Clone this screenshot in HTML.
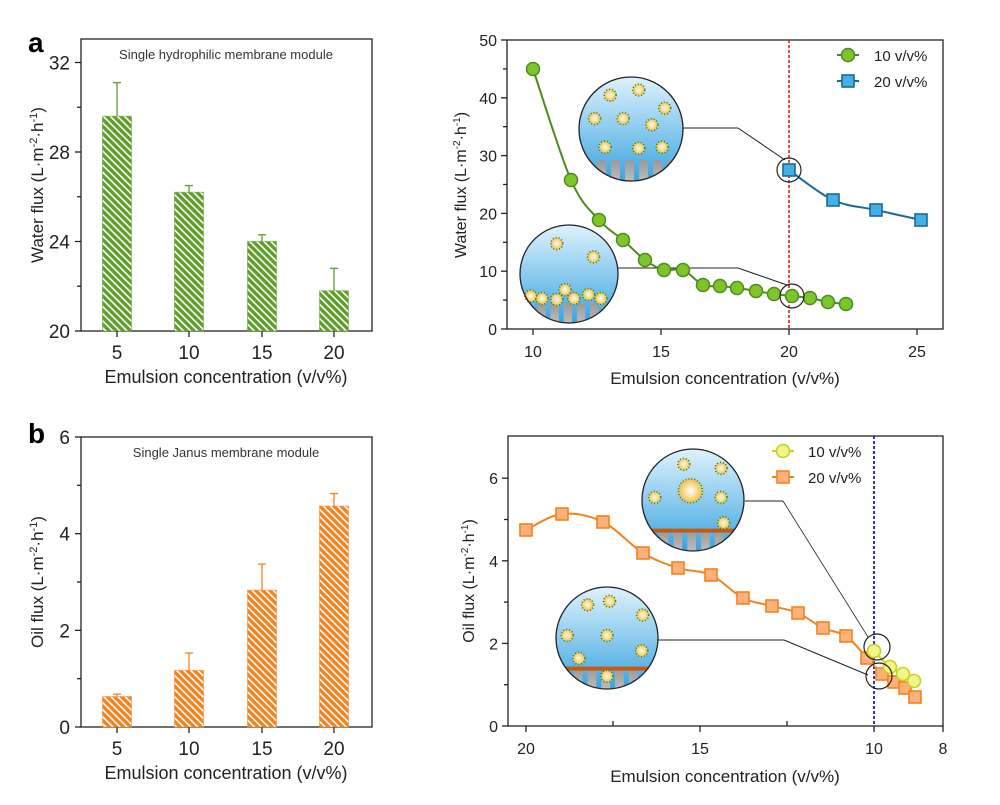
<!DOCTYPE html>
<html><head><meta charset="utf-8"><style>
html,body{margin:0;padding:0;background:#fff}
svg{display:block;font-family:"Liberation Sans",Arial,sans-serif}
</style></head><body>
<svg id="s" width="1000" height="805" viewBox="0 0 1000 805" xmlns="http://www.w3.org/2000/svg">
<defs>
<pattern id="hg" width="5" height="5" patternUnits="userSpaceOnUse" patternTransform="rotate(-45)">
<rect width="5" height="5" fill="#5f9e2a"/><rect x="0" width="1.6" height="5" fill="#fff"/></pattern>
<pattern id="ho" width="5" height="5" patternUnits="userSpaceOnUse" patternTransform="rotate(-45)">
<rect width="5" height="5" fill="#f5821f"/><rect x="0" width="1.6" height="5" fill="#fff"/></pattern>
<linearGradient id="wb" x1="0" y1="0" x2="0" y2="1"><stop offset="0" stop-color="#dff2fd"/><stop offset="1" stop-color="#3aa4e0"/></linearGradient>
<linearGradient id="pg" x1="0" y1="0" x2="0" y2="1"><stop offset="0" stop-color="#999"/><stop offset="1" stop-color="#f4f4f4"/></linearGradient>
<radialGradient id="dr"><stop offset="0" stop-color="#fff"/><stop offset="1" stop-color="#f2c040"/></radialGradient>
<clipPath id="c1"><circle cx="631" cy="129" r="52"/></clipPath>
<clipPath id="c2"><circle cx="569" cy="274" r="49"/></clipPath>
<clipPath id="c3"><circle cx="693" cy="500" r="51"/></clipPath>
<clipPath id="c4"><circle cx="607" cy="638" r="51"/></clipPath>
</defs>
<g id="g"></g>
</svg>
<script>
const g=document.getElementById('g');let h='';
function T(x,y,t,o){h+=`<text x="${x}" y="${y}" ${o||''}>${t}</text>`;}
function L(x1,y1,x2,y2,o){h+=`<line x1="${x1}" y1="${y1}" x2="${x2}" y2="${y2}" ${o||'stroke="#222" stroke-width="1.3"'}/>`;}
function curve(p){let d=`M${p[0][0]},${p[0][1]}`;for(let i=0;i<p.length-1;i++){const p0=p[i-1]||p[i],p1=p[i],p2=p[i+1],p3=p[i+2]||p2;d+=` C${p1[0]+(p2[0]-p0[0])/6},${p1[1]+(p2[1]-p0[1])/6} ${p2[0]-(p3[0]-p1[0])/6},${p2[1]-(p3[1]-p1[1])/6} ${p2[0]},${p2[1]}`;}return d;}
T(28,52,'a','font-size="28" font-weight="bold"');T(28,443,'b','font-size="28" font-weight="bold"');
function bars(top,bot,ymin,ymax,ticks,minor,vals,errs,pat,col,title,ylab){
 h+=`<rect x="81" y="${top}" width="291" height="${bot-top}" fill="none" stroke="#222" stroke-width="1.3"/>`;
 const Y=v=>bot-(v-ymin)/(ymax-ymin)*(bot-top);
 ticks.forEach(v=>{L(75,Y(v),81,Y(v));T(70,Y(v)+7,v,'font-size="19" text-anchor="end" fill="#222"');});
 minor.forEach(v=>L(77,Y(v),81,Y(v)));
 [117,189,262,334].forEach((x,i)=>{L(x,bot,x,bot+6);T(x,bot+28,[5,10,15,20][i],'font-size="19" text-anchor="middle" fill="#222"');
  h+=`<line x1="${x}" y1="${Y(vals[i])}" x2="${x}" y2="${Y(errs[i])}" stroke="${col}" stroke-width="1.3"/><line x1="${x-4}" y1="${Y(errs[i])}" x2="${x+4}" y2="${Y(errs[i])}" stroke="${col}" stroke-width="1.3"/>`;
  h+=`<rect x="${x-14.5}" y="${Y(vals[i])}" width="29" height="${bot-Y(vals[i])}" fill="url(#${pat})" stroke="${col}" stroke-opacity="0.5" stroke-width="1"/>`;});
 T(226,top+20,title,'font-size="13" text-anchor="middle" fill="#333"');
 T(226,bot+52,'Emulsion concentration (v/v%)','font-size="18" text-anchor="middle" fill="#222"');
 h+=`<text transform="translate(43,${(top+bot)/2}) rotate(-90)" font-size="17" text-anchor="middle" fill="#222">${ylab} flux (L·m<tspan dy="-6" font-size="11">-2</tspan><tspan dy="6">·h</tspan><tspan dy="-6" font-size="11">-1</tspan><tspan dy="6">)</tspan></text>`;
}
bars(39,331,20,33.05,[20,24,28,32],[22,26,30],[29.6,26.2,24.0,21.8],[31.1,26.5,24.3,22.8],'hg','#5f9e2a','Single hydrophilic membrane module','Water');
bars(437,727,0,6,[0,2,4,6],[1,3,5],[0.63,1.17,2.83,4.57],[0.68,1.53,3.37,4.83],'ho','#f5821f','Single Janus membrane module','Oil');
h+=`<rect x="507" y="40" width="436" height="289" fill="none" stroke="#222" stroke-width="1.3"/>`;
for(let v=0;v<=50;v+=5){const y=329-v*5.78;L(v%10?503:501,y,507,y);if(v%10==0)T(497,y+6,v,'font-size="16" text-anchor="end" fill="#222"');}
[10,15,20,25].forEach(v=>{const x=533+(v-10)*25.6;L(x,329,x,335);T(x,357,v,'font-size="16" text-anchor="middle" fill="#222"');});
T(725,384,'Emulsion concentration (v/v%)','font-size="17" text-anchor="middle" fill="#222"');
h+=`<text transform="translate(466,185) rotate(-90)" font-size="16" text-anchor="middle" fill="#222">Water flux (L·m<tspan dy="-6" font-size="10">-2</tspan><tspan dy="6">·h</tspan><tspan dy="-6" font-size="10">-1</tspan><tspan dy="6">)</tspan></text>`;
L(789,40,789,329,'stroke="#e8201c" stroke-width="1.6" stroke-dasharray="3,2"');
function inset(cx,cy,r,clip,drops,pores,janus){
 h+=`<g clip-path="url(#${clip})"><rect x="${cx-r}" y="${cy-r}" width="${2*r}" height="${2*r}" fill="url(#wb)"/>`;
 const py=cy+r*0.6;
 for(let x=cx-r+4;x<cx+r;x+=r*0.27){h+=`<rect x="${x}" y="${py}" width="${r*0.17}" height="${r}" fill="url(#pg)"/>`;}
 if(janus)h+=`<rect x="${cx-r}" y="${py-2}" width="${2*r}" height="4" fill="#c85a10"/>`;
 h+='</g>';
 drops.forEach(d=>{const rr=d[2]||6;h+=`<circle cx="${cx+d[0]*r}" cy="${cy+d[1]*r}" r="${rr}" fill="url(#dr)" stroke="#2a7a2a" stroke-width="1.6" stroke-dasharray="1,2"/>`;});
 h+=`<circle cx="${cx}" cy="${cy}" r="${r}" fill="none" stroke="#222" stroke-width="1.3"/>`;
}
inset(631,129,52,'c1',[[-0.4,-0.65],[0.15,-0.75],[0.65,-0.4],[-0.7,-0.2],[-0.15,-0.2],[0.4,-0.08],[-0.5,0.35],[0.15,0.37],[0.6,0.35]]);
inset(569,274,49,'c2',[[-0.25,-0.62],[0.5,-0.35],[-0.78,0.45],[-0.55,0.5],[-0.25,0.52],[0.1,0.5],[-0.08,0.32],[0.4,0.42],[0.65,0.5]]);
L(683,128,738,128,'stroke="#222" stroke-width="1"');L(738,128,785,160,'stroke="#222" stroke-width="1"');
L(618,268,738,268,'stroke="#222" stroke-width="1"');L(738,268,787,285,'stroke="#222" stroke-width="1"');
const gp=[[533,69],[571,180],[599,220],[623,240],[645,260],[664,270],[683,270],[703,285],[720,286],[737,288],[756,291],[774,294],[792,296],[810,298],[828,302],[846,304]];
h+=`<path d="${curve(gp)}" fill="none" stroke="#4e8a1e" stroke-width="2"/>`;
gp.forEach(p=>h+=`<circle cx="${p[0]}" cy="${p[1]}" r="6.5" fill="#7cc62a" stroke="#4e8a1e" stroke-width="1.5"/>`);
const bp=[[789,170],[833,200],[876,210],[921,220]];
h+=`<path d="${curve(bp)}" fill="none" stroke="#1a6a94" stroke-width="2"/>`;
bp.forEach(p=>h+=`<rect x="${p[0]-6}" y="${p[1]-6}" width="12" height="12" fill="#45b0e6" stroke="#1a6a94" stroke-width="1.6"/>`);
h+=`<circle cx="789" cy="170" r="12" fill="none" stroke="#222" stroke-width="1.2"/><circle cx="792" cy="296" r="12" fill="none" stroke="#222" stroke-width="1.2"/>`;
L(837,55,859,55,'stroke="#4e8a1e" stroke-width="2"');h+=`<circle cx="848" cy="55" r="6.5" fill="#7cc62a" stroke="#4e8a1e" stroke-width="1.5"/>`;
L(837,81,859,81,'stroke="#1a6a94" stroke-width="2"');h+=`<rect x="842" y="75" width="12" height="12" fill="#45b0e6" stroke="#1a6a94" stroke-width="1.6"/>`;
T(874,61,'10 v/v%','font-size="15" fill="#222"');T(874,87,'20 v/v%','font-size="15" fill="#222"');
h+=`<rect x="508" y="436" width="435" height="290" fill="none" stroke="#222" stroke-width="1.3"/>`;
for(let v=0;v<=6;v++){const y=726-v*41.3;L(v%2?504:502,y,508,y);if(v%2==0)T(498,y+6,v,'font-size="16" text-anchor="end" fill="#222"');}
[[20,526],[15,700],[10,874],[8,943]].forEach(a=>{L(a[1],726,a[1],732);T(a[1],754,a[0],'font-size="16" text-anchor="middle" fill="#222"');});
L(613,726,613,721);L(787,726,787,721);
T(725,782,'Emulsion concentration (v/v%)','font-size="17" text-anchor="middle" fill="#222"');
h+=`<text transform="translate(474,581) rotate(-90)" font-size="16" text-anchor="middle" fill="#222">Oil flux (L·m<tspan dy="-6" font-size="10">-2</tspan><tspan dy="6">·h</tspan><tspan dy="-6" font-size="10">-1</tspan><tspan dy="6">)</tspan></text>`;
L(874,436,874,726,'stroke="#1a1ad0" stroke-width="1.8" stroke-dasharray="3,2"');
inset(693,500,51,'c3',[[-0.18,-0.7],[0.55,-0.62],[-0.75,-0.05],[0.55,-0.05],[0.6,0.45],[-0.05,-0.18,12]],0,1);
inset(607,638,51,'c4',[[-0.38,-0.65],[0.05,-0.72],[0.7,-0.45],[-0.78,-0.05],[0.0,-0.05],[-0.55,0.4],[0.68,0.25],[0.0,0.75]],0,1);
L(745,501,783,501,'stroke="#222" stroke-width="1"');L(783,501,868,637,'stroke="#222" stroke-width="0.8"');
L(658,640,784,640,'stroke="#222" stroke-width="1"');L(784,640,868,675,'stroke="#222" stroke-width="1"');
const op=[[526,530],[562,514],[603,522],[643,553],[678,568],[711,575],[743,598],[772,606],[798,613],[823,628],[846,636],[867,658],[882,674],[894,682],[905,688],[915,697]];
h+=`<path d="${curve(op)}" fill="none" stroke="#f5821f" stroke-width="2"/>`;
op.forEach(p=>h+=`<rect x="${p[0]-6}" y="${p[1]-6}" width="12" height="12" fill="#fbb27a" stroke="#f5821f" stroke-width="1.6"/>`);
const yp=[[874,651],[890,667],[903,674],[914,681]];
h+=`<path d="${curve(yp)}" fill="none" stroke="#c8d21e" stroke-width="2"/>`;
yp.forEach(p=>h+=`<circle cx="${p[0]}" cy="${p[1]}" r="6.5" fill="#f1f58a" stroke="#c8d21e" stroke-width="1.6"/>`);
h+=`<circle cx="877" cy="647" r="13" fill="none" stroke="#222" stroke-width="1.2"/><circle cx="879" cy="676" r="13" fill="none" stroke="#222" stroke-width="1.2"/>`;
L(772,451,794,451,'stroke="#c8d21e" stroke-width="2"');h+=`<circle cx="783" cy="451" r="6.5" fill="#f1f58a" stroke="#c8d21e" stroke-width="1.6"/>`;
L(772,477,794,477,'stroke="#f5821f" stroke-width="2"');h+=`<rect x="777" y="471" width="12" height="12" fill="#fbb27a" stroke="#f5821f" stroke-width="1.6"/>`;
T(808,457,'10 v/v%','font-size="15" fill="#222"');T(808,483,'20 v/v%','font-size="15" fill="#222"');
g.innerHTML=h;
</script>
</body></html>
